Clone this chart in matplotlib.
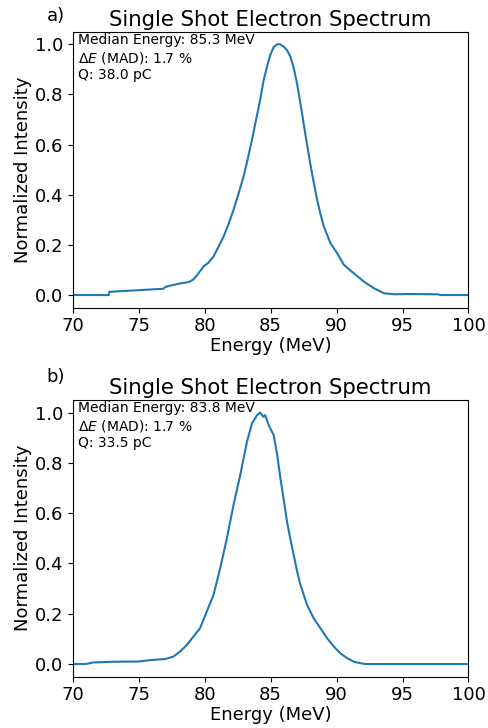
import matplotlib
matplotlib.use("Agg")
import matplotlib.pyplot as plt
import numpy as np

# Panel a) spectrum
energy_a = [70.0, 72.72, 72.76, 74.5, 76.85, 77.05, 78.0, 78.8, 79.14, 79.4, 79.9, 80.3, 80.66,
            81.0, 81.42, 81.8, 82.18, 82.55, 82.94, 83.25, 83.58, 83.9, 84.2, 84.45, 84.72,
            84.98, 85.23, 85.5, 85.7, 86.0, 86.24, 86.5, 86.75, 87.0, 87.25, 87.5, 87.75,
            88.0, 88.27, 88.53, 88.8, 89.04, 89.54, 90.05, 90.56, 91.32, 92.08, 92.84,
            93.6, 94.37, 95.4, 97.66, 97.9, 100.0]
intensity_a = [0.0, 0.0, 0.013, 0.018, 0.025, 0.033, 0.045, 0.052, 0.062, 0.078, 0.113, 0.130,
               0.153, 0.188, 0.232, 0.282, 0.339, 0.402, 0.471, 0.540, 0.618, 0.700, 0.777,
               0.852, 0.91, 0.958, 0.989, 1.0, 1.0, 0.99, 0.976, 0.95, 0.905, 0.843, 0.766,
               0.684, 0.603, 0.525, 0.448, 0.378, 0.318, 0.272, 0.206, 0.166, 0.12, 0.086,
               0.053, 0.027, 0.007, 0.003, 0.004, 0.003, 0.0, 0.0]

# Panel b) spectrum
energy_b = [70.0, 71.0, 71.5, 73.0, 75.0, 75.6, 76.0, 77.0, 77.6, 78.12, 78.63, 79.14, 79.64,
            80.15, 80.66, 81.17, 81.68, 82.18, 82.69, 83.2, 83.58, 83.96, 84.2, 84.45, 84.58,
            84.85, 85.23, 85.5, 85.74, 86.0, 86.24, 86.5, 86.75, 87.0, 87.26, 87.77, 88.27,
            88.78, 89.29, 89.8, 90.3, 90.81, 91.32, 91.83, 92.2, 100.0]
intensity_b = [0.0, 0.0, 0.006, 0.009, 0.010, 0.014, 0.016, 0.020, 0.029, 0.049, 0.075, 0.109,
               0.142, 0.208, 0.274, 0.38, 0.5, 0.632, 0.751, 0.883, 0.956, 0.989, 1.0, 0.983,
               0.99, 0.95, 0.91, 0.83, 0.738, 0.65, 0.566, 0.495, 0.433, 0.37, 0.314, 0.234,
               0.181, 0.142, 0.102, 0.069, 0.042, 0.023, 0.009, 0.003, 0.0, 0.0]

panel_labels = ["a)", "b)"]
titles = ["Single Shot Electron Spectrum", "Single Shot Electron Spectrum"]
annotations = [
    "Median Energy: 85.3 MeV\n$\\Delta E$ (MAD): 1.7 %\nQ: 38.0 pC",
    "Median Energy: 83.8 MeV\n$\\Delta E$ (MAD): 1.7 %\nQ: 33.5 pC",
]
label_heights = [1.04, 1.065]

fig = plt.figure(figsize=(4.89, 7.28), dpi=100)
ax1 = fig.add_axes([0.149, 0.5775, 0.809, 0.379])
ax2 = fig.add_axes([0.149, 0.0706, 0.809, 0.380])

for ax, x, y, lab, title, ann, ly in zip([ax1, ax2], [energy_a, energy_b],
                                         [intensity_a, intensity_b],
                                         panel_labels, titles, annotations, label_heights):
    ax.plot(x, y, color="#1f77b4", lw=1.5)
    ax.set_xlim(70, 100)
    ax.set_xticks([70, 75, 80, 85, 90, 95, 100])
    ax.set_yticks([0.0, 0.2, 0.4, 0.6, 0.8, 1.0])
    ax.tick_params(labelsize=13)
    ax.set_xlabel("Energy (MeV)", fontsize=13, labelpad=1)
    ax.set_ylabel("Normalized Intensity", fontsize=13, labelpad=2)
    ax.set_title(title, fontsize=15.3, pad=4)
    ax.text(-0.066, ly, lab, transform=ax.transAxes, fontsize=13, ha="left", va="baseline")
    ax.text(0.012, 0.995, ann, transform=ax.transAxes, fontsize=10, ha="left", va="top")

fig.savefig("out.png", dpi=100)
